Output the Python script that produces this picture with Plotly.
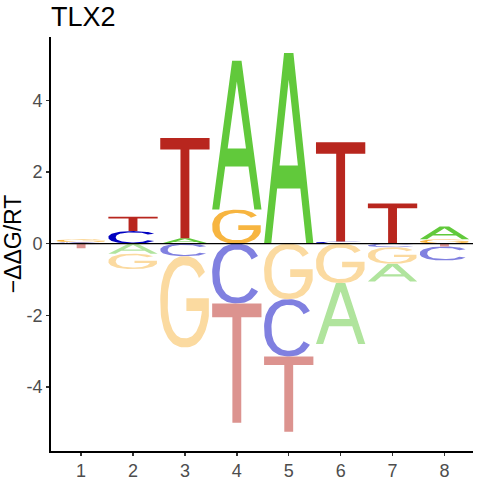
import numpy as np
import plotly.graph_objects as go

# ---------------- data ----------------
positions = [1, 2, 3, 4, 5, 6, 7, 8]
tick_labels_x = ["1", "2", "3", "4", "5", "6", "7", "8"]
score_A = [0.00, -0.28, 0.15, 4.16, 5.32, -1.70, -0.50, 0.36]
score_C = [0.04, 0.35, -0.35, -1.67, -1.60, 0.06, -0.10, -0.39]
score_G = [0.08, -0.43, -2.55, 0.95, -1.55, -1.10, -0.46, 0.12]
score_T = [-0.13, 0.40, 2.80, -3.33, -2.10, 2.77, 1.12, -0.08]
y_ticks = [-4, -2, 0, 2, 4]
y_tick_labels = ["-4", "-2", "0", "2", "4"]
title_text = "TLX2"
y_title = "\u2212\u0394\u0394G/RT"

scores = {"A": score_A, "C": score_C, "G": score_G, "T": score_T}
pos_colors = {"A": "#61C93B", "C": "#0000C0", "G": "#F7B540", "T": "#B8261E"}
neg_colors = {"A": "#B0E49D", "C": "#8080E0", "G": "#FBDAA0", "T": "#DC938F"}

LETTER_W = 0.95


# ---------------- glyph outlines in a unit box ----------------
def glyph_T():
    s0, s1, cb = 0.41, 0.59, 0.885
    return [[(s0, 0), (s1, 0), (s1, cb), (1, cb), (1, 1), (0, 1), (0, cb), (s0, cb)]]


def glyph_A():
    def xLi(v):
        return 0.145 + v * 0.355 / 0.86

    def xRi(v):
        return 1 - xLi(v)

    b0, b1 = 0.29, 0.41
    pts = [(0, 0), (0.145, 0), (xLi(b0), b0), (xRi(b0), b0), (0.855, 0), (1, 0),
           (0.595, 1), (0.5, 1), (0.5, 0.86), (xRi(b1), b1), (xLi(b1), b1),
           (0.5, 0.86), (0.5, 1), (0.405, 1)]
    return [pts]


RX_O, RY_O, RX_I, RY_I = 0.5, 0.5, 0.35, 0.40
SUPER = 2.3


def sp(t, rx, ry):
    c, s = np.cos(t), np.sin(t)
    e = 2.0 / SUPER
    return (0.5 + rx * np.sign(c) * abs(c) ** e, 0.5 + ry * np.sign(s) * abs(s) ** e)


def glyph_C():
    th = np.radians(np.linspace(33, 327, 80))
    outer = [sp(t, RX_O, RY_O) for t in th]
    inner = [sp(t, RX_I, RY_I) for t in th[::-1]]
    return [outer + inner]


def glyph_G():
    th_o = np.radians(np.linspace(38, 345, 80))
    outer = [sp(t, RX_O, RY_O) for t in th_o]
    bar_lo, bar_hi, bar_l = 0.40, 0.54, 0.53
    s_in = ((0.5 - bar_lo) / RY_I) ** (SUPER / 2.0)
    t_in = -np.degrees(np.arcsin(s_in))
    xr = max(outer[-1][0], 0.985)
    mid = [(xr, outer[-1][1]), (xr, bar_hi), (bar_l, bar_hi), (bar_l, bar_lo)]
    th_i = np.radians(np.linspace(t_in, 38 - 360, 80))
    inner = [sp(t, RX_I, RY_I) for t in th_i]
    return [outer + mid + inner]


GLYPHS = {"A": glyph_A(), "C": glyph_C(), "G": glyph_G(), "T": glyph_T()}

# ---------------- build letter stacks ----------------
coords = {(l, s): ([], []) for l in "ACGT" for s in ("pos", "neg")}
for i, p in enumerate(positions):
    vals = [(l, scores[l][i]) for l in "ACGT"]
    pos_vals = sorted([v for v in vals if v[1] > 0], key=lambda z: z[1])
    neg_vals = sorted([v for v in vals if v[1] < 0], key=lambda z: -z[1])
    base = 0.0
    for l, v in pos_vals:
        xs, ys = coords[(l, "pos")]
        for poly in GLYPHS[l]:
            for u, w in poly:
                xs.append(p - LETTER_W / 2 + u * LETTER_W)
                ys.append(base + w * v)
            xs.append(None)
            ys.append(None)
        base += v
    top = 0.0
    for l, v in neg_vals:
        h = -v
        bottom = top - h
        xs, ys = coords[(l, "neg")]
        for poly in GLYPHS[l]:
            for u, w in poly:
                xs.append(p - LETTER_W / 2 + u * LETTER_W)
                ys.append(bottom + w * h)
            xs.append(None)
            ys.append(None)
        top = bottom

fig = go.Figure()
for s, cmap in (("neg", neg_colors), ("pos", pos_colors)):
    for l in "ACGT":
        xs, ys = coords[(l, s)]
        if not xs:
            continue
        fig.add_trace(go.Scatter(
            x=xs, y=ys, mode="lines", fill="toself", fillcolor=cmap[l],
            line=dict(width=0, color=cmap[l]), hoverinfo="skip", showlegend=False))

X_RANGE = [0.42, 8.55]
Y_RANGE = [-5.79, 5.77]

fig.add_trace(go.Scatter(x=X_RANGE, y=[0, 0], mode="lines",
                         line=dict(color="black", width=1.2),
                         hoverinfo="skip", showlegend=False))

FONT = "Liberation Sans, Arial, sans-serif"
fig.update_layout(
    template="none",
    width=480, height=480,
    margin=dict(l=51, r=7, t=37, b=29, pad=0, autoexpand=False),
    paper_bgcolor="white", plot_bgcolor="white",
    font=dict(family=FONT),
    title=dict(text=title_text, x=0, xref="paper", xanchor="left",
               y=1 - 17 / 480, yref="container", yanchor="middle",
               font=dict(size=27, color="black", family=FONT)),
    xaxis=dict(range=X_RANGE, tickvals=positions, ticktext=tick_labels_x,
               automargin=False,
               showline=True, linecolor="black", linewidth=1.8,
               ticks="outside", ticklen=3, tickwidth=1.5, tickcolor="#333333",
               tickfont=dict(size=18, color="#4D4D4D", family=FONT),
               showgrid=False, zeroline=False),
    yaxis=dict(range=Y_RANGE, tickvals=y_ticks, ticktext=y_tick_labels,
               automargin=False,
               showline=True, linecolor="black", linewidth=1.8,
               ticks="outside", ticklen=3, tickwidth=1.5, tickcolor="#333333",
               tickfont=dict(size=18, color="#4D4D4D", family=FONT),
               showgrid=False, zeroline=False,
               title=dict(text=y_title, standoff=4,
                          font=dict(size=23, color="black", family=FONT))),
)

fig.write_html(
    "out.html",
    config={"displayModeBar": False, "staticPlot": True},
    post_script="document.body.style.margin='0';document.body.style.overflow='hidden';",
)
